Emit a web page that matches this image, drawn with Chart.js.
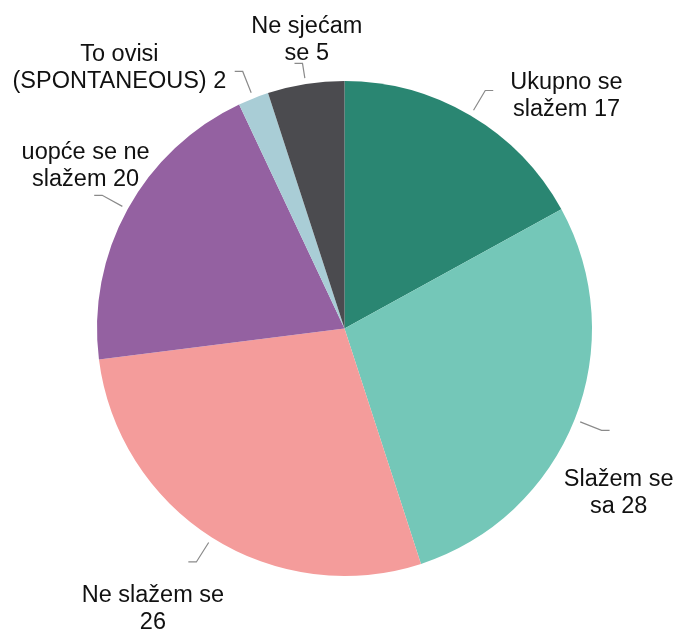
<!DOCTYPE html>
<html>
<head>
<meta charset="utf-8">
<script src="https://cdn.jsdelivr.net/npm/chart.js@4"></script>
<style>
html,body{margin:0;padding:0;background:#fff;}
#wrap{width:677px;height:630px;position:relative;}
</style>
</head>
<body>
<div id="wrap"><canvas id="c" width="677" height="630"></canvas></div>
<script>
const categories = ["Ukupno se slažem", "Slažem se sa", "Ne slažem se", "uopće se ne slažem", "To ovisi (SPONTANEOUS)", "Ne sjećam se"];
const sliceShares = [17, 28, 28, 20, 2, 5];
// numbers printed in the labels
const labelNumbers = [17, 28, 26, 20, 2, 5];
const labelTexts = [
  ["Ukupno se", "slažem"],
  ["Slažem se", "sa"],
  ["Ne slažem se", ""],
  ["uopće se ne", "slažem"],
  ["To ovisi", "(SPONTANEOUS)"],
  ["Ne sjećam", "se"]
];
const colors = ["#2a8672", "#74c7b8", "#f49c9b", "#9461a1", "#a9cdd6", "#4b4b4f"];
// label text offsets (centre x, first baseline) relative to arc midpoint on the rim
const labelOffsets = [[96, -26], [44, 66], [-59, 65], [-42, -50], [-134, -37], [1, -51]];

const outsideLabels = {
  id: 'outsideLabels',
  afterDatasetsDraw(chart) {
    const ctx = chart.ctx;
    const meta = chart.getDatasetMeta(0);
    ctx.save();
    ctx.font = '23.5px "Liberation Sans", Arial, sans-serif';
    ctx.fillStyle = '#111';
    ctx.textAlign = 'center';
    ctx.textBaseline = 'alphabetic';
    meta.data.forEach((arc, i) => {
      const p = arc.getProps(['x', 'y', 'startAngle', 'endAngle', 'outerRadius'], true);
      const mid = (p.startAngle + p.endAngle) / 2;
      const cx = Math.cos(mid), cy = Math.sin(mid);
      const R = p.outerRadius;
      const rimX = p.x + cx * R, rimY = p.y + cy * R;
      const r1 = R + 6, r2 = R + (i === 5 ? 21 : 29);
      const x1 = p.x + cx * r1, y1 = p.y + cy * r1;
      const x2 = p.x + cx * r2, y2 = p.y + cy * r2;
      const dir = cx >= 0 ? 1 : -1;
      ctx.strokeStyle = '#8a8a8a';
      ctx.lineWidth = 1.2;
      ctx.beginPath();
      ctx.moveTo(x1, y1);
      ctx.lineTo(x2, y2);
      ctx.lineTo(x2 + dir * 8, y2);
      ctx.stroke();
      const tx = rimX + labelOffsets[i][0];
      const ty = rimY + labelOffsets[i][1];
      const lines = [labelTexts[i][0], (labelTexts[i][1] ? labelTexts[i][1] + ' ' : '') + labelNumbers[i]];
      lines.forEach((line, k) => {
        ctx.fillText(line, tx, ty + k * 27);
      });
    });
    ctx.restore();
  }
};

new Chart(document.getElementById('c'), {
  type: 'pie',
  data: {
    labels: categories,
    datasets: [{
      data: sliceShares,
      backgroundColor: colors,
      borderWidth: 0
    }]
  },
  options: {
    responsive: false,
    animation: false,
    layout: { padding: { left: 97, right: 85, top: 81, bottom: 54 } },
    plugins: {
      legend: { display: false },
      tooltip: { enabled: false }
    }
  },
  plugins: [outsideLabels]
});
</script>
</body>
</html>
